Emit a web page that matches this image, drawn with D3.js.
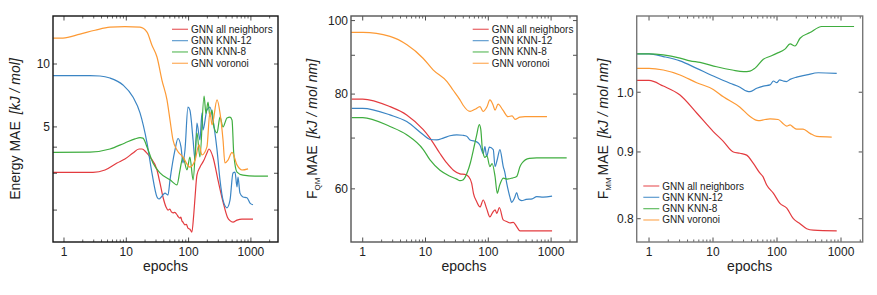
<!DOCTYPE html>
<html>
<head>
<meta charset="utf-8">
<script src="https://cdn.jsdelivr.net/npm/d3@7"></script>
<style>
  body { margin: 0; background: #fff; }
  text { font-family: Arial, "Liberation Sans", sans-serif; fill: #222; }
</style>
</head>
<body>
<svg id="chart" width="877" height="295"></svg>
<script>
// series names + colours (same order in every panel)
var names = ["GNN all neighbors", "GNN KNN-12", "GNN KNN-8", "GNN voronoi"];
var colors = ["#e33b3f", "#3b85c4", "#3fad3f", "#fd9a35"];
var xTicks = [1, 10, 100, 1000];

// ---- Energy MAE [kJ/mol]  (epoch, value)
var energyAll = [[0.67,3.03],[2.92,3.03],[4.55,3.11],[7.09,3.36],[9.5,3.51],[12.8,3.75],[16,3.92],[17.9,3.92],[20.7,3.79],[24,3.59],[31.1,3.11],[34.7,2.7],[38.8,2.31],[43.4,2.07],[46.7,2.0],[50,2.02],[53,1.96],[56.2,1.94],[60,1.95],[65.1,1.9],[68,1.86],[72.8,1.83],[75,1.85],[78,1.78],[81.3,1.75],[87.5,1.7],[92,1.71],[97.7,1.64],[105,1.62],[113,1.57],[120,1.85],[127,2.31],[136,2.94],[152,3.21],[175,3.45],[197,3.75],[212,3.92],[246,3.59],[296,2.79],[357,2.19],[420,1.85],[462,1.78],[516,1.75],[600,1.79],[719,1.81],[1081,1.81]];
var energyKnn12 = [[0.67,8.79],[2.61,8.79],[3.78,8.76],[5.47,8.57],[8.85,7.94],[12.8,6.95],[16.6,5.84],[21.5,4.19],[25.8,3.01],[31.1,2.31],[33.5,2.26],[37.3,2.33],[41.8,2.41],[46.7,2.36],[50.3,2.79],[60.5,3.88],[67.6,4.4],[75.5,4.01],[81.3,3.36],[87.5,3.88],[97.7,6.22],[105,6.02],[118,4.33],[127,3.47],[136,5.22],[152,4.33],[164,5.84],[170,4.83],[197,6.02],[220,6.22],[246,5.39],[286,3.88],[319,2.79],[357,2.23],[413,2.05],[462,2.23],[516,3.01],[556,3.04],[598,2.58],[621,2.88],[668,2.41],[746,2.31],[865,2.29],[968,2.16],[1081,2.12]];
var energyKnn8 = [[0.67,3.78],[2.61,3.79],[5.47,3.92],[9.5,4.19],[13.8,4.38],[16.6,4.44],[18.5,4.42],[21.5,4.01],[26.8,3.36],[34.7,3.01],[50.3,2.79],[65.1,2.64],[72.8,3.11],[81.3,3.59],[94.2,3.11],[105,3.59],[118,2.79],[136,4.68],[152,3.59],[177,7.03],[190,5.8],[205,6.58],[220,5.6],[238,6.02],[255,5.0],[286,4.68],[319,5.57],[357,5.0],[413,5.52],[462,5.57],[498,5.39],[530,3.75],[598,3.04],[746,2.94],[1164,2.91],[1880,2.91]];
var energyVoronoi = [[0.67,13.3],[0.96,13.3],[1.81,13.9],[3.15,14.5],[5.47,15.0],[9.5,15.1],[16.6,15.0],[21.5,14.2],[25.8,12.3],[31.1,10.8],[37.3,8.38],[45,6.73],[50.3,5.39],[56.2,4.33],[65,3.88],[81,3.59],[105,3.21],[127,3.47],[147,4.1],[164,3.67],[197,4.01],[220,5.89],[238,5.11],[286,6.73],[319,5.84],[357,4.33],[383,3.36],[429,3.47],[498,3.78],[598,3.29],[719,3.11],[900,3.15]];

// ---- F_QM MAE [kJ/mol nm]
var fqmAll = [[0.67,78.8],[1,78.8],[2.72,77.0],[5.02,75.1],[9.22,71.8],[11.8,70.0],[17,66.8],[21.8,64.9],[27.8,63.5],[35.4,62.8],[42.2,62.7],[48.2,62.3],[54.4,61.0],[58,59.2],[65.4,57.7],[73.8,56.8],[83,58.0],[94.1,56.5],[106,55.1],[115,55.7],[128,56.3],[137,55.7],[150,56.7],[173,54.6],[200,54.3],[221,54.1],[250,54.2],[283,53.5],[320,52.8],[362,52.8],[1036,52.8]];
var fqmKnn12 = [[0.67,76.6],[1,76.6],[2.72,75.1],[5.02,73.6],[9.22,70.7],[11.8,69.7],[15.1,69.6],[19.2,70.0],[24.5,70.5],[31.4,70.7],[39,70.6],[45.3,70.4],[51.2,69.6],[65.4,69.2],[73.8,68.5],[83,66.8],[88.3,68.2],[94.1,66.2],[104,68.1],[120,67.6],[128,64.2],[139,65.6],[153,67.6],[173,64.2],[184,63.0],[196,61.1],[210,59.5],[221,58.5],[236,57.6],[260,58.3],[283,59.3],[305,58.2],[340,57.9],[400,58.1],[500,58.2],[590,58.6],[750,58.5],[1036,58.7]];
var fqmKnn8 = [[0.67,74.5],[1,74.5],[2.72,72.5],[5.02,70.7],[9.22,67.6],[11.8,65.5],[17,63.5],[24,62.4],[31.4,61.8],[35.4,61.5],[40,61.7],[46,63.0],[52,65.0],[58,67.6],[65,70.5],[71.9,72.9],[76,71.8],[80,68.0],[83,66.8],[88,66.0],[95,66.3],[106,64.2],[115,64.8],[128,62.3],[139,59.2],[150,60.5],[173,62.0],[200,61.8],[240,62.0],[283,62.3],[320,64.2],[340,64.8],[450,65.8],[590,65.9],[1771,65.9]];
var fqmVoronoi = [[0.65,96.5],[1.01,96.5],[2.72,95.3],[5.07,92.9],[9.13,89.2],[13.2,86.1],[22,83.1],[27.4,81.0],[35.4,78.6],[39.5,77.4],[51.2,75.9],[61.4,76.4],[73.8,77.0],[82.4,75.9],[95.3,77.0],[106,78.6],[119,77.4],[128,76.2],[143,77.6],[171,76.2],[206,74.7],[239,74.9],[266,74.1],[320,74.6],[384,74.7],[859,74.7]];

// ---- F_MM MAE [kJ/mol nm]
var fmmAll = [[0.64,1.021],[1,1.021],[1.67,1.011],[3.05,0.995],[5.56,0.964],[10.1,0.933],[14.5,0.917],[20.8,0.900],[26.4,0.898],[33.6,0.895],[42.7,0.882],[54.2,0.867],[60,0.862],[69,0.849],[87.5,0.837],[111,0.822],[142,0.815],[180,0.800],[229,0.793],[291,0.786],[369,0.784],[857,0.783]];
var fmmKnn12 = [[0.64,1.070],[1,1.070],[1.67,1.065],[3.05,1.057],[5.56,1.043],[10.1,1.029],[18.4,1.016],[26.4,1.009],[33.6,1.002],[37.9,1.001],[48.2,1.007],[61.1,1.011],[77.8,1.013],[88,1.020],[98.9,1.017],[110,1.022],[125,1.020],[140,1.019],[160,1.023],[203,1.027],[291,1.031],[442,1.035],[857,1.034]];
var fmmKnn8 = [[0.64,1.070],[1,1.070],[1.67,1.068],[3.05,1.062],[4.37,1.057],[6.26,1.054],[11.4,1.046],[20,1.040],[30,1.037],[37.9,1.038],[45,1.043],[61.1,1.060],[80,1.066],[98.9,1.071],[133,1.079],[160,1.089],[191,1.085],[229,1.100],[328,1.111],[499,1.123],[1600,1.123]];
var fmmVoronoi = [[0.64,1.043],[1,1.043],[1.67,1.040],[3.05,1.031],[5.56,1.017],[10.1,1.005],[14.5,0.992],[26.4,0.974],[37.9,0.958],[51,0.951],[65,0.953],[77.8,0.954],[104,0.953],[125,0.946],[142,0.942],[160,0.944],[180,0.940],[203,0.937],[255,0.937],[328,0.930],[417,0.925],[716,0.924]];

var svg = d3.select("#chart");
var top0 = 16, bottom0 = 242;

var panels = [
  { left: 53, right: 278, xDom: [0.666, 2723], yDom: [1.407, 16.97],
    yTicks: [2, 3, 4, 5, 10], yLabels: [5, 10], fmt: d3.format("d"), frame: "#111",
    series: [energyAll, energyKnn12, energyKnn8, energyVoronoi],
    title: [["Energy MAE", null], ["[kJ / mol]", "italic"]], sub: null, titleX: 20,
    legX: 172, legY: 29.3 },
  { left: 351, right: 577, xDom: [0.651, 2585], yDom: [51.06, 101.4],
    yTicks: [60, 70, 80, 90, 100], yLabels: [60, 80, 100], fmt: d3.format("d"), frame: "#555",
    series: [fqmAll, fqmKnn12, fqmKnn8, fqmVoronoi],
    title: [["MAE", null], ["[kJ / mol nm]", "italic"]], sub: "QM", titleX: 316.5,
    legX: 472.7, legY: 29.3 },
  { left: 636.7, right: 862.7, xDom: [0.642, 2183], yDom: [0.7678, 1.144],
    yTicks: [0.8, 0.9, 1.0], yLabels: [0.8, 0.9, 1.0], fmt: d3.format(".1f"), frame: "#777",
    series: [fmmAll, fmmKnn12, fmmKnn8, fmmVoronoi],
    title: [["MAE", null], ["[kJ / mol nm]", "italic"]], sub: "MM", titleX: 608,
    legX: 643.3, legY: 186 }
];

panels.forEach(function(p, pi) {
  var x = d3.scaleLog().domain(p.xDom).range([p.left, p.right]);
  var y = d3.scaleLog().domain(p.yDom).range([bottom0, top0]);
  var g = svg.append("g");

  g.append("clipPath").attr("id", "clip" + pi)
    .append("rect").attr("x", p.left).attr("y", top0)
    .attr("width", p.right - p.left).attr("height", bottom0 - top0);

  var line = d3.line()
    .x(function(d) { return x(d[0]); })
    .y(function(d) { return y(d[1]); })
    .curve(d3.curveMonotoneX);

  p.series.forEach(function(s, i) {
    g.append("path").datum(s)
      .attr("clip-path", "url(#clip" + pi + ")")
      .attr("d", line)
      .attr("fill", "none")
      .attr("stroke", colors[i])
      .attr("stroke-width", 1.2);
  });

  // inside ticks, all four sides
  var minor = [];
  xTicks.forEach(function(t) { for (var k = 2; k <= 9; k++) minor.push(t * k); });
  minor = minor.filter(function(v) { return v < p.xDom[1]; });
  [[bottom0, -1], [top0, 1]].forEach(function(side) {
    g.selectAll(null).data(xTicks).enter().append("line")
      .attr("x1", function(d) { return x(d); }).attr("x2", function(d) { return x(d); })
      .attr("y1", side[0]).attr("y2", side[0] + side[1] * 4.5)
      .attr("stroke", "#222").attr("stroke-width", 0.8);
    g.selectAll(null).data(minor).enter().append("line")
      .attr("x1", function(d) { return x(d); }).attr("x2", function(d) { return x(d); })
      .attr("y1", side[0]).attr("y2", side[0] + side[1] * 2.5)
      .attr("stroke", "#222").attr("stroke-width", 0.7);
  });
  [[p.left, 1], [p.right, -1]].forEach(function(side) {
    g.selectAll(null).data(p.yTicks).enter().append("line")
      .attr("y1", function(d) { return y(d); }).attr("y2", function(d) { return y(d); })
      .attr("x1", side[0]).attr("x2", side[0] + side[1] * 4)
      .attr("stroke", "#222").attr("stroke-width", 0.8);
  });

  g.append("rect")
    .attr("x", p.left).attr("y", top0)
    .attr("width", p.right - p.left).attr("height", bottom0 - top0)
    .attr("fill", "none").attr("stroke", p.frame).attr("stroke-width", 1.4);

  // tick labels
  g.selectAll(null).data(xTicks).enter().append("text")
    .attr("x", function(d) { return x(d); }).attr("y", 256)
    .attr("text-anchor", "middle").attr("font-size", 12)
    .text(function(d) { return d; });
  g.selectAll(null).data(p.yLabels).enter().append("text")
    .attr("x", p.left - 3).attr("y", function(d) { return y(d); })
    .attr("dy", "0.36em").attr("text-anchor", "end").attr("font-size", 12)
    .text(function(d) { return p.fmt(d); });

  // axis titles
  g.append("text")
    .attr("x", (p.left + p.right) / 2).attr("y", 270.5)
    .attr("text-anchor", "middle").attr("font-size", 14)
    .text("epochs");

  var t = g.append("text")
    .attr("transform", "translate(" + p.titleX + "," + (top0 + bottom0) / 2 + ") rotate(-90)")
    .attr("text-anchor", "middle").attr("font-size", 14);
  if (p.sub) {
    t.append("tspan").text("F");
    t.append("tspan").attr("font-size", 8).attr("dy", 3).text(p.sub);
    t.append("tspan").attr("dy", -3).attr("dx", 2).text(p.title[0][0]);
  } else {
    t.append("tspan").text(p.title[0][0]);
  }
  t.append("tspan").attr("dx", 7).attr("font-style", "italic").text(p.title[1][0]);

  // legend
  var lg = g.append("g");
  names.forEach(function(n, i) {
    var yy = p.legY + i * 11.33;
    lg.append("line")
      .attr("x1", p.legX).attr("x2", p.legX + 16)
      .attr("y1", yy).attr("y2", yy)
      .attr("stroke", colors[i]).attr("stroke-width", 1.3)
      .attr("stroke-opacity", 0.75);
    lg.append("text")
      .attr("x", p.legX + 19).attr("y", yy).attr("dy", "0.35em")
      .attr("font-size", 10).text(n);
  });
});
</script>
</body>
</html>
